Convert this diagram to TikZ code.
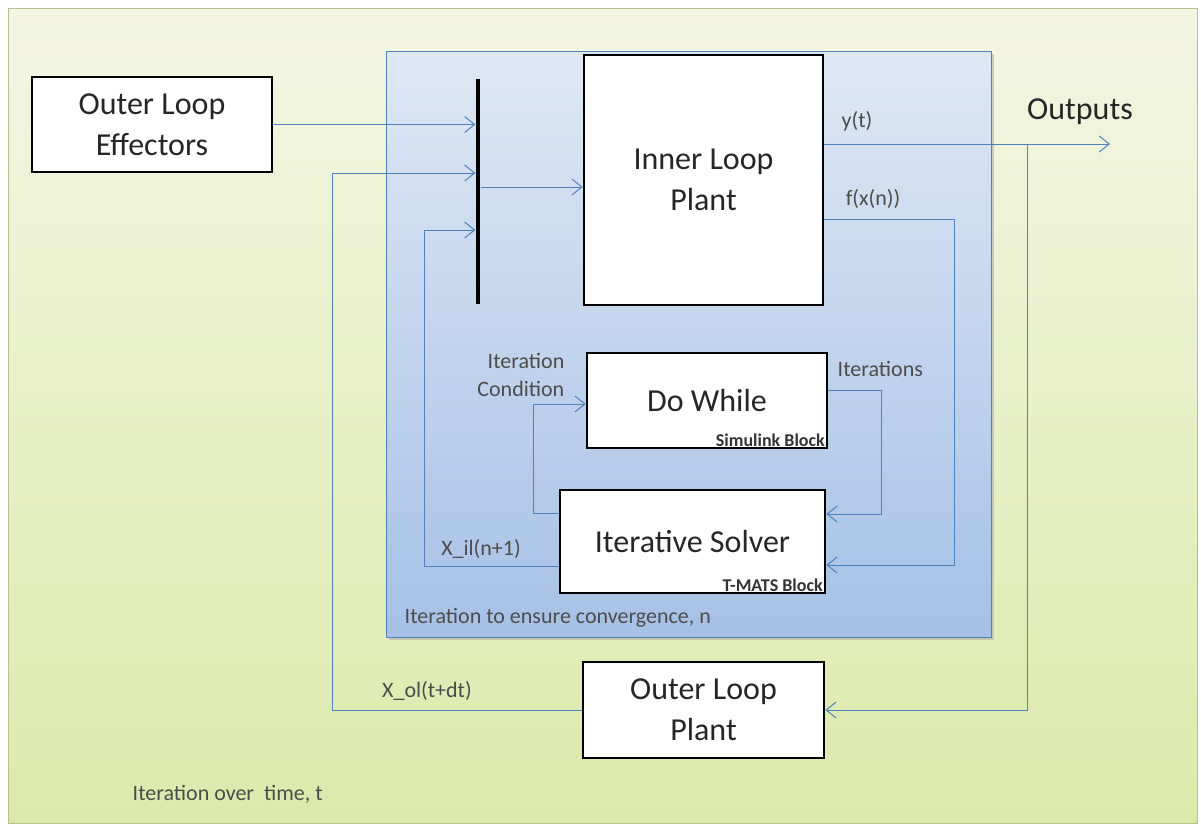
\documentclass[tikz,border=0pt]{standalone}
\usepackage{fontspec}
\setmainfont{Carlito}
\usepackage{xcolor}
\usepackage{tikz}
\usetikzlibrary{arrows.meta}
\definecolor{greentop}{RGB}{244,246,228}
\definecolor{greenbot}{RGB}{220,233,172}
\definecolor{greenline}{RGB}{185,192,140}
\definecolor{bluetop}{RGB}{223,232,245}
\definecolor{bluebot}{RGB}{166,193,229}
\definecolor{lineblue}{RGB}{79,129,189}
\begin{document}
\begin{tikzpicture}[x=0.75pt,y=0.75pt,yscale=-1,xscale=1,
  blk/.style={draw=black, line width=2pt, fill=white, align=center, inner sep=0pt,
    text=black!85, font=\fontsize{24}{31}\selectfont},
  tag/.style={anchor=south east, inner xsep=2.5pt, inner ysep=2pt, text=black!80,
    font=\bfseries\fontsize{13.5}{14}\selectfont},
  lbl/.style={text=black!70, font=\fontsize{16.5}{21}\selectfont},
  sig/.style={draw=lineblue, line width=0.75pt},
  >={Straight Barb[length=7.5pt,width=12pt]}]
\useasboundingbox (0,0) rectangle (1201,825);

%Shape: Rectangle [outer loop region]
\shade[top color=greentop, bottom color=greenbot] (8,8) rectangle (1197,823);
\draw[greenline, line width=0.75pt] (8,8) rectangle (1197,823);
%Shape: Rectangle [inner loop region]
\fill[black!35, opacity=0.5] (389,54) rectangle (994,640);
\shade[top color=bluetop, bottom color=bluebot] (386,51) rectangle (991,637);
\draw[lineblue, line width=0.75pt] (386,51) rectangle (991,637);

% Blocks
\node[blk, minimum width=180pt, minimum height=71.25pt] (effectors) at (152,124.5) {Outer Loop\\Effectors};
\node[blk, minimum width=179.25pt, minimum height=187.5pt] (inner) at (703.5,180) {Inner Loop\\Plant};
\node[blk, minimum width=180pt, minimum height=71.25pt] (dowhile) at (707,400.5) {Do While};
\node[blk, minimum width=198.75pt, minimum height=77.25pt] (solver) at (692.5,541.5) {Iterative Solver};
\node[blk, minimum width=180.75pt, minimum height=72pt] (outerplant) at (703.5,710) {Outer Loop\\Plant};
\node[tag] (dwtag) at (dowhile.south east) {Simulink Block};
\node[tag] (solvertag) at (solver.south east) {T-MATS Block};
%Shape: Bus bar
\node[fill=black, minimum width=3.5pt, minimum height=168.75pt, inner sep=0pt] (bus) at (478,191.5) {};

% Corner points
\coordinate (olfb) at (332,173);
\coordinate (ilfb) at (424,230);
\coordinate (busout) at (480,187);
\coordinate (ytend) at (1110,144);
\coordinate (tap) at (1027,144);
\coordinate (fxtop) at (954,219);
\coordinate (fxbot) at (954,565);
\coordinate (ittop) at (881,390);
\coordinate (itbot) at (881,514);
\coordinate (condbot) at (533,513);
\coordinate (condtop) at (533,404);
\coordinate (ilout) at (424,566);

% Connections
\draw[sig,->] (effectors.east) -- (effectors.east -| bus.west);
\draw[sig,->] (outerplant.west) -| (olfb) -- (olfb -| bus.west);
\draw[sig,->] (solver.west |- ilout) -| (ilfb) -- (ilfb -| bus.west);
\draw[sig,->] (bus.east |- busout) -- (busout -| inner.west);
\draw[sig,->] (ytend -| inner.east) -- (ytend);
\draw[sig,->] (tap) |- (outerplant.east);
\draw[sig,->] (fxtop -| inner.east) -- (fxtop) -- (fxbot) -- (fxbot -| solver.east);
\draw[sig,->] (ittop -| dowhile.east) -- (ittop) -- (itbot) -- (itbot -| solver.east);
\draw[sig,->] (condbot -| solver.west) -- (condbot) -- (condtop) -- (condtop -| dowhile.west);

% Text Node
\node[lbl] (ytlabel) at (857,121) {y(t)};
% Text Node
\node[lbl] (fxlabel) at (873,199) {f(x(n))};
% Text Node
\node[text=black!85, font=\fontsize{24}{28}\selectfont] (outputs) at (1080,112) {Outputs};
% Text Node
\node[lbl, align=right, anchor=east] (condlabel) at (569,375) {Iteration\\Condition};
% Text Node
\node[lbl, anchor=west] (itlabel) at (833,369) {Iterations};
% Text Node
\node[lbl] (illabel) at (481,549) {X\_il(n+1)};
% Text Node
\node[lbl] (ollabel) at (427,691) {X\_ol(t+dt)};
% Text Node
\node[lbl, anchor=west] (innernote) at (400,618) {Iteration to ensure convergence, n};
% Text Node
\node[lbl, anchor=west] (outernote) at (128,794) {Iteration over\ \ time, t};

\end{tikzpicture}
\end{document}
